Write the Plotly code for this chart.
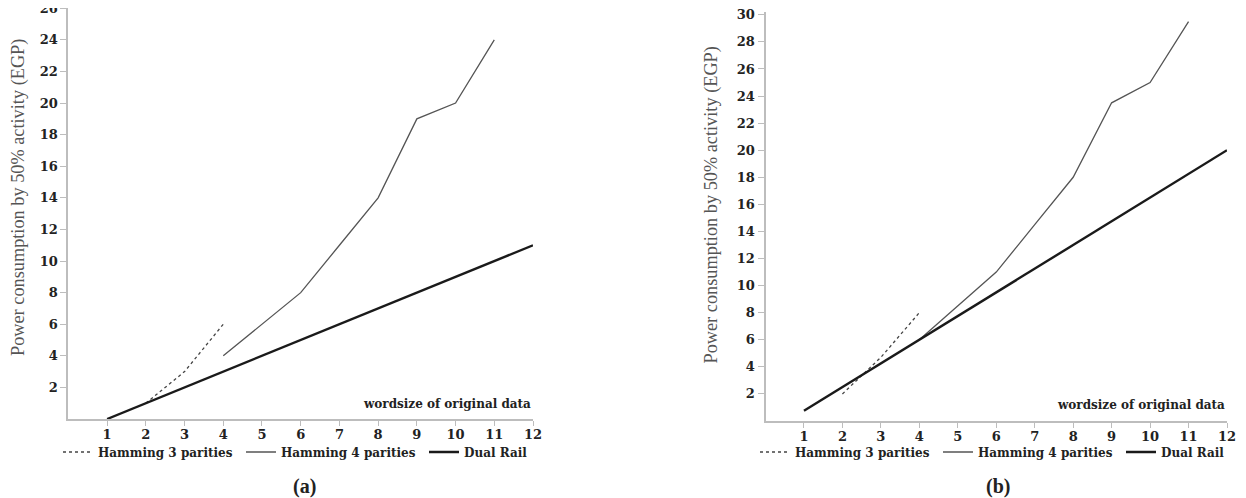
import plotly.graph_objects as go

# ---- data ----
wordsize = [1, 2, 3, 4, 5, 6, 7, 8, 9, 10, 11, 12]

# panel (a)
a_ham3_x = [2, 3, 4]
a_ham3_y = [1, 3, 6]
a_ham4_x = [4, 5, 6, 7, 8, 9, 10, 11]
a_ham4_y = [4, 6, 8, 11, 14, 19, 20, 24]
a_dual_y = [0, 1, 2, 3, 4, 5, 6, 7, 8, 9, 10, 11]

# panel (b)
b_ham3_x = [2, 3, 4]
b_ham3_y = [2, 4.7, 8]
b_ham4_x = [4, 5, 6, 7, 8, 9, 10, 11]
b_ham4_y = [6, 8.5, 11, 14.5, 18, 23.5, 25, 29.5]
b_dual_y = [0.75, 2.5, 4.25, 6, 7.75, 9.5, 11.25, 13, 14.75, 16.5, 18.25, 20]

a_yticks = [2, 4, 6, 8, 10, 12, 14, 16, 18, 20, 22, 24, 26]
b_yticks = [2, 4, 6, 8, 10, 12, 14, 16, 18, 20, 22, 24, 26, 28, 30]

names = ["Hamming 3 parities", "Hamming 4 parities", "Dual Rail"]
ytitle = "Power consumption by 50% activity (EGP)"
xtitle = "wordsize of original data"

SERIF = "Liberation Serif"
WSERIF = "DejaVu Serif"
TXT = "#222222"
AX = "#bdbdbd"

ham3_line = dict(color="#444444", width=1.3, dash="dot")
ham4_line = dict(color="#555555", width=1.3)
dual_line = dict(color="#1a1a1a", width=2.4)

fig = go.Figure()

# panel (a)
fig.add_trace(go.Scatter(x=a_ham3_x, y=a_ham3_y, mode="lines", name=names[0],
                         line=ham3_line, xaxis="x", yaxis="y", legend="legend"))
fig.add_trace(go.Scatter(x=a_ham4_x, y=a_ham4_y, mode="lines", name=names[1],
                         line=ham4_line, xaxis="x", yaxis="y", legend="legend"))
fig.add_trace(go.Scatter(x=wordsize, y=a_dual_y, mode="lines", name=names[2],
                         line=dual_line, xaxis="x", yaxis="y", legend="legend"))
# panel (b)
fig.add_trace(go.Scatter(x=b_ham3_x, y=b_ham3_y, mode="lines", name=names[0],
                         line=ham3_line, xaxis="x2", yaxis="y2", legend="legend2"))
fig.add_trace(go.Scatter(x=b_ham4_x, y=b_ham4_y, mode="lines", name=names[1],
                         line=ham4_line, xaxis="x2", yaxis="y2", legend="legend2"))
fig.add_trace(go.Scatter(x=wordsize, y=b_dual_y, mode="lines", name=names[2],
                         line=dual_line, xaxis="x2", yaxis="y2", legend="legend2"))

# page has an 8px body margin; figure fills the rest of the window
OFF = 8
W, H = 1238, 490


def fx(X):
    return (X - OFF) / W


def fy(Y):
    return (H - (Y - OFF)) / H


tickfont = dict(family=WSERIF, size=13, color=TXT, weight="bold")


def xaxis(domain, anchor):
    return dict(domain=domain, anchor=anchor, range=[0, 12], tickvals=wordsize,
                showline=True, linecolor=AX, linewidth=2, ticks="outside",
                ticklen=5, tickcolor=AX, tickwidth=1, showgrid=False,
                zeroline=False, tickfont=tickfont, fixedrange=True,
                automargin=False, ticklabelstandoff=-3,
                ticklabeloverflow="allow")


def yaxis(domain, anchor, rng, tv):
    return dict(domain=domain, anchor=anchor, range=rng, tickvals=tv,
                showline=True, linecolor=AX, linewidth=2, ticks="outside",
                ticklen=6, tickcolor=AX, tickwidth=1, showgrid=False,
                zeroline=False, tickfont=tickfont, fixedrange=True,
                automargin=False, ticklabeloverflow="allow")


a_xd = [fx(68.4), fx(533)]
a_yd = [fy(419), 1.0]
b_xd = [fx(765.5), fx(1227)]
b_yd = [fy(421), fy(12)]

legfont = dict(family=WSERIF, size=12, color=TXT, weight="bold")

fig.update_layout(
    width=W, height=H,
    margin=dict(l=0, r=0, t=0, b=0, autoexpand=False),
    paper_bgcolor="white", plot_bgcolor="white",
    xaxis=xaxis(a_xd, "y"),
    yaxis=yaxis(a_yd, "x", [0, 26.02], a_yticks),
    xaxis2=xaxis(b_xd, "y2"),
    yaxis2=yaxis(b_yd, "x2", [0, 409 / 13.54], b_yticks),
    legend=dict(orientation="h", x=50 / W, y=fy(452), xanchor="left",
                yanchor="middle", font=legfont, entrywidth=138,
                entrywidthmode="pixels", bgcolor="rgba(0,0,0,0)"),
    legend2=dict(orientation="h", x=747 / W, y=fy(452), xanchor="left",
                 yanchor="middle", font=legfont, entrywidth=138,
                 entrywidthmode="pixels", bgcolor="rgba(0,0,0,0)"),
    showlegend=True,
)

annots = [
    dict(text=ytitle, x=fx(18), y=fy(198), textangle=-90,
         font=dict(family=SERIF, size=18.3, color="#555555")),
    dict(text=ytitle, x=fx(711), y=fy(205.5), textangle=-90,
         font=dict(family=SERIF, size=18.3, color="#555555")),
    dict(text=xtitle, x=fx(533), y=fy(404), xanchor="right",
         font=dict(family=WSERIF, size=12, color=TXT, weight="bold")),
    dict(text=xtitle, x=fx(1227), y=fy(405), xanchor="right",
         font=dict(family=WSERIF, size=12, color=TXT, weight="bold")),
    dict(text="(a)", x=fx(304), y=fy(486),
         font=dict(family=SERIF, size=20, color=TXT, weight="bold")),
    dict(text="(b)", x=fx(998), y=fy(486),
         font=dict(family=SERIF, size=20, color=TXT, weight="bold")),
]
for a in annots:
    a.update(xref="paper", yref="paper", showarrow=False)
    a.setdefault("xanchor", "center")
    a.setdefault("yanchor", "middle")
fig.update_layout(annotations=annots)

fig.write_html("out.html")
